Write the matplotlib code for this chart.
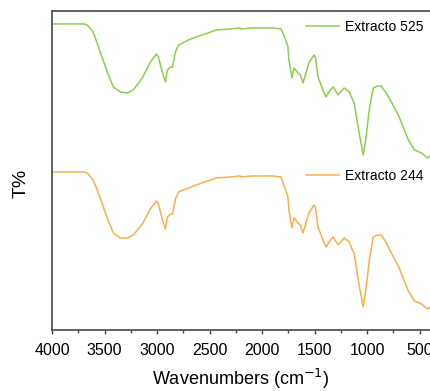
import numpy as np
import matplotlib
matplotlib.use('Agg')
import matplotlib.pyplot as plt
from matplotlib.ticker import MultipleLocator

plt.rcParams['font.family'] = ['Liberation Sans', 'DejaVu Sans']

# numero de onda (cm^-1)
wn = [4000, 3800, 3700, 3665, 3608, 3541, 3474, 3417, 3350, 3283, 3226, 3140, 3063, 3006,
      2987, 2948, 2920, 2901, 2870, 2853, 2824, 2795, 2700, 2600, 2433, 2300, 2210, 2200,
      2100, 1900, 1820, 1792, 1753, 1744, 1715, 1696, 1680, 1658, 1635, 1610, 1553, 1505,
      1490, 1467, 1409, 1390, 1350, 1323, 1275, 1218, 1170, 1122, 1075, 1036, 1008, 979,
      941, 900, 864, 840, 816, 769, 702, 606, 549, 482, 424, 400]

# T% (unidades arbitrarias, curvas desplazadas)
t525 = [306, 306, 306, 305, 298, 278, 258, 243, 238, 237, 240, 252, 268, 276,
        273, 257, 248, 260, 263, 263, 278, 285, 290, 294, 300, 301, 302, 301,
        302, 302, 301, 295, 283, 270, 252, 262, 260, 257, 255, 247, 267, 275,
        272, 253, 237, 233, 240, 243, 235, 242, 238, 227, 197, 175, 193, 220,
        242, 244, 244, 240, 237, 228, 215, 190, 180, 177, 172, 174]

t244 = [158, 158, 158, 157, 150, 132, 112, 97, 92, 92, 95, 106, 121, 129,
        126, 110, 101, 113, 116, 116, 131, 138, 142, 146, 152, 153, 154, 153,
        154, 154, 153, 145, 133, 120, 102, 112, 110, 107, 105, 97, 117, 125,
        122, 103, 87, 83, 90, 93, 85, 92, 88, 76, 45, 23, 42, 69,
        93, 95, 95, 91, 87, 77, 64, 39, 29, 26, 21, 23]

fig = plt.figure(figsize=(4.3, 3.91), dpi=100, facecolor='#FFFFFF')
ax = fig.add_axes([0.121, 0.156, 0.879, 0.816])

l1, = ax.plot(wn, t525, color='#8ccf4d', lw=1.1, solid_joinstyle='round')
l2, = ax.plot(wn, t244, color='#f8b04c', lw=1.1, solid_joinstyle='round')

ax.set_xlim(4000, 400)
ax.set_ylim(0, 319)
ax.xaxis.set_major_locator(MultipleLocator(500))
ax.xaxis.set_minor_locator(MultipleLocator(250))
ax.set_yticks([])
ax.tick_params(axis='x', which='major', labelsize=11.5, length=3, width=1, color='#444444', pad=6)
ax.tick_params(axis='x', which='minor', length=2, width=1, color='#444444')

for s in ['left', 'top', 'bottom']:
    ax.spines[s].set_color('#555555')
    ax.spines[s].set_linewidth(1.3)
ax.spines['right'].set_visible(False)

ax.set_xlabel('Wavenumbers (cm$^{-1}$)', fontsize=13, labelpad=7)
ax.set_ylabel('T%', fontsize=14)
ax.yaxis.set_label_coords(-0.058, 0.46)

leg1 = ax.legend([l1], ['Extracto 525'], loc='center right', bbox_to_anchor=(1.0, 0.95),
                 frameon=False, borderpad=0, fontsize=10, handlelength=2.4, handletextpad=0.4)
ax.add_artist(leg1)
ax.legend([l2], ['Extracto 244'], loc='center right', bbox_to_anchor=(1.0, 0.483),
          frameon=False, borderpad=0, fontsize=10, handlelength=2.4, handletextpad=0.4)

fig.savefig('out.png', dpi=100, facecolor='#FFFFFF')
